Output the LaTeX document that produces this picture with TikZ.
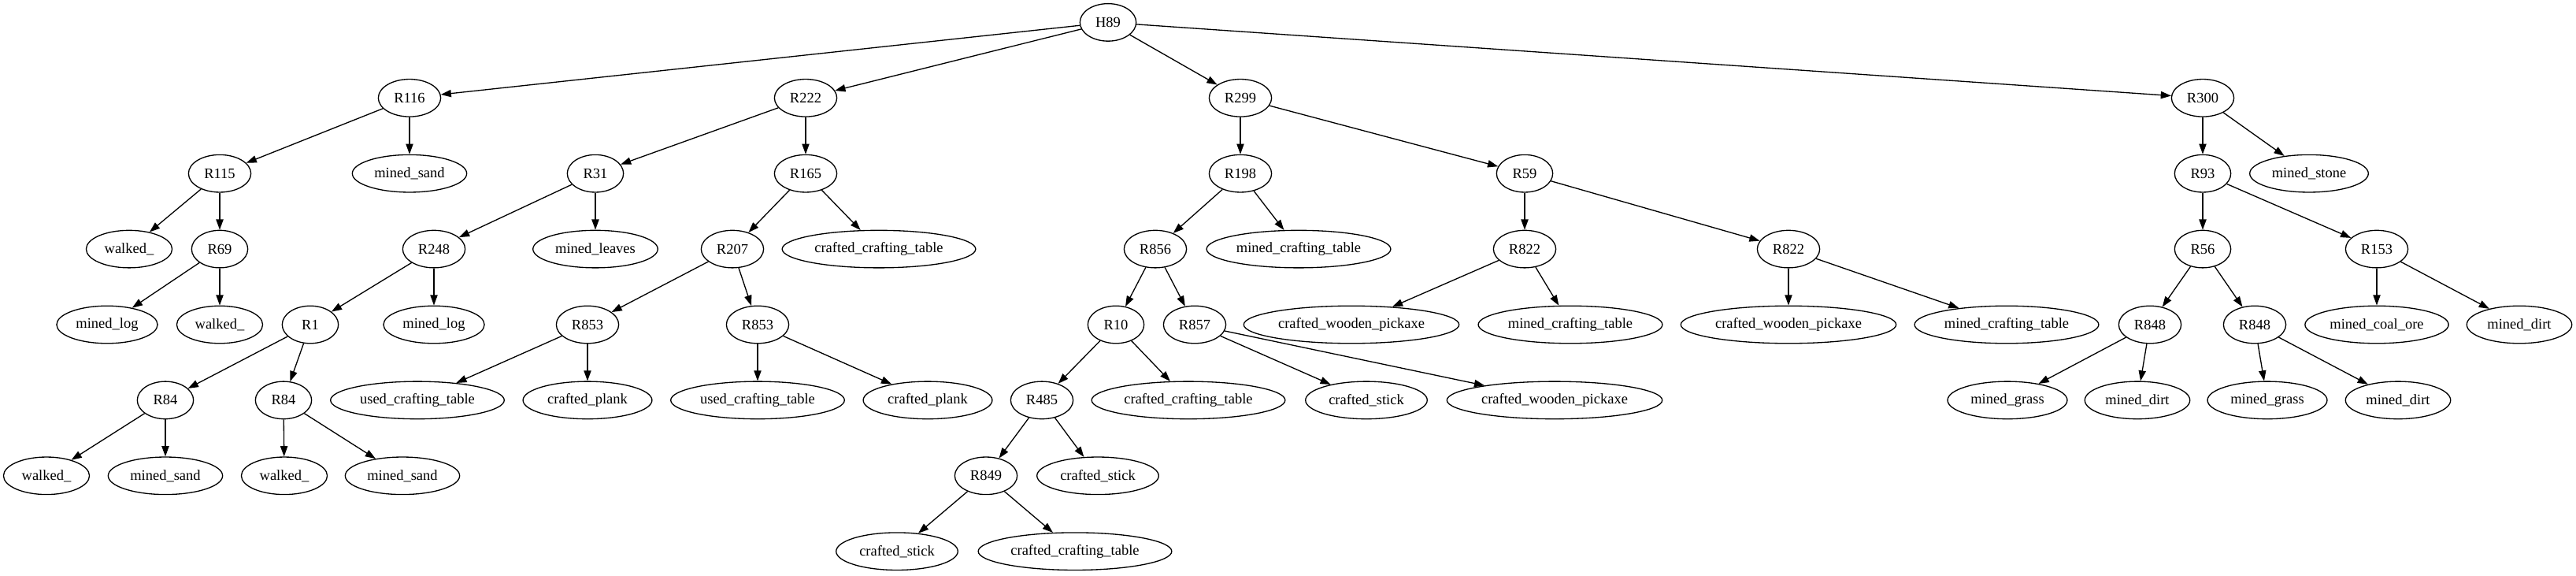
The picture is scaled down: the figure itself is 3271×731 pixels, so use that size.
\documentclass[tikz,border=0pt]{standalone}
\usepackage{fontspec}
\setmainfont{Liberation Serif}
\usetikzlibrary{shapes.geometric,arrows.meta}
\tikzset{
  nd/.style={ellipse, draw, line width=1pt, inner sep=0pt, minimum height=36pt,
             font=\fontsize{14pt}{16pt}\selectfont},
  rs/.style={nd, minimum width=54pt},
  rl/.style={nd, minimum width=60pt},
  lf/.style={nd, minimum width=#1},
  ed/.style={line width=1pt, -{Triangle[length=10pt,width=7pt]}}
}
\begin{document}
\begin{tikzpicture}[x=0.757pt, y=-0.757pt]
\useasboundingbox (0,0) rectangle (3271,731);
\def\ra{28.4}\def\rb{124.3}\def\rc{220.2}\def\rd{316.1}\def\re{412}\def\rf{507.9}\def\rg{603.8}\def\rh{699.7}
% row 0
\node[rs] (H89) at (1407,\ra) {H89};
% row 1
\node[rl] (R116) at (520,\rb) {R116};
\node[rl] (R222) at (1023,\rb) {R222};
\node[rl] (R299) at (1575,\rb) {R299};
\node[rl] (R300) at (2797,\rb) {R300};
% row 2
\node[rl] (R115) at (279,\rc) {R115};
\node[lf=110pt] (msand1) at (520,\rc) {mined\_sand};
\node[rs] (R31) at (756,\rc) {R31};
\node[rl] (R165) at (1023,\rc) {R165};
\node[rl] (R198) at (1575,\rc) {R198};
\node[rs] (R59) at (1936,\rc) {R59};
\node[rs] (R93) at (2797,\rc) {R93};
\node[lf=114pt] (mstone) at (2932,\rc) {mined\_stone};
% row 3
\node[lf=82.6pt] (walk1) at (164,\rd) {walked\_};
\node[rs] (R69) at (279,\rd) {R69};
\node[rl] (R248) at (551,\rd) {R248};
\node[lf=120pt] (mleaves) at (756,\rd) {mined\_leaves};
\node[rl] (R207) at (930,\rd) {R207};
\node[lf=186pt] (cct1) at (1116,\rd) {crafted\_crafting\_table};
\node[rl] (R856) at (1467,\rd) {R856};
\node[lf=177pt] (mct1) at (1649,\rd) {mined\_crafting\_table};
\node[rl] (R822a) at (1936,\rd) {R822};
\node[rl] (R822b) at (2271,\rd) {R822};
\node[rs] (R56) at (2797,\rd) {R56};
\node[rl] (R153) at (3018,\rd) {R153};
% row 4
\node[lf=97pt] (mlog1) at (136,\re) {mined\_log};
\node[lf=82.6pt] (walk2) at (279,\re) {walked\_};
\node[rs] (R1) at (394,\re) {R1};
\node[lf=97pt] (mlog2) at (551,\re) {mined\_log};
\node[rl] (R853a) at (746,\re) {R853};
\node[rl] (R853b) at (962,\re) {R853};
\node[rs] (R10) at (1417,\re) {R10};
\node[rl] (R857) at (1517,\re) {R857};
\node[lf=207pt] (cwp1) at (1716,\re) {crafted\_wooden\_pickaxe};
\node[lf=177pt] (mct2) at (1994,\re) {mined\_crafting\_table};
\node[lf=207pt] (cwp2) at (2271,\re) {crafted\_wooden\_pickaxe};
\node[lf=177pt] (mct3) at (2548,\re) {mined\_crafting\_table};
\node[rl] (R848a) at (2730,\re) {R848};
\node[rl] (R848b) at (2863,\re) {R848};
\node[lf=138pt] (mcoal) at (3018,\re) {mined\_coal\_ore};
\node[lf=101pt] (mdirt1) at (3199,\re) {mined\_dirt};
% row 5
\node[rs] (R84a) at (210,\rf) {R84};
\node[rs] (R84b) at (360,\rf) {R84};
\node[lf=167pt] (uct1) at (530,\rf) {used\_crafting\_table};
\node[lf=124pt] (cplank1) at (746,\rf) {crafted\_plank};
\node[lf=167pt] (uct2) at (962,\rf) {used\_crafting\_table};
\node[lf=124pt] (cplank2) at (1178,\rf) {crafted\_plank};
\node[rl] (R485) at (1323,\rf) {R485};
\node[lf=186pt] (cct2) at (1509,\rf) {crafted\_crafting\_table};
\node[lf=117pt] (cstick1) at (1735,\rf) {crafted\_stick};
\node[lf=207pt] (cwp3) at (1974,\rf) {crafted\_wooden\_pickaxe};
\node[lf=115pt] (mgrass1) at (2549,\rf) {mined\_grass};
\node[lf=101pt] (mdirt2) at (2714,\rf) {mined\_dirt};
\node[lf=115pt] (mgrass2) at (2879,\rf) {mined\_grass};
\node[lf=101pt] (mdirt3) at (3045,\rf) {mined\_dirt};
% row 6
\node[lf=82.6pt] (walk3) at (59,\rg) {walked\_};
\node[lf=110pt] (msand2) at (210,\rg) {mined\_sand};
\node[lf=82.6pt] (walk4) at (361,\rg) {walked\_};
\node[lf=110pt] (msand3) at (511,\rg) {mined\_sand};
\node[rl] (R849) at (1252,\rg) {R849};
\node[lf=117pt] (cstick2) at (1394,\rg) {crafted\_stick};
% row 7
\node[lf=117pt] (cstick3) at (1139,\rh) {crafted\_stick};
\node[lf=186pt] (cct3) at (1365,\rh) {crafted\_crafting\_table};
% edges
\foreach \a/\b in {H89/R116, H89/R222, H89/R299, H89/R300,
  R116/R115, R116/msand1, R115/walk1, R115/R69, R69/mlog1, R69/walk2,
  R222/R31, R222/R165, R31/R248, R31/mleaves, R248/R1, R248/mlog2,
  R1/R84a, R1/R84b, R84a/walk3, R84a/msand2, R84b/walk4, R84b/msand3,
  R165/R207, R165/cct1, R207/R853a, R207/R853b,
  R853a/uct1, R853a/cplank1, R853b/uct2, R853b/cplank2,
  R299/R198, R299/R59, R198/R856, R198/mct1, R856/R10, R856/R857,
  R10/R485, R10/cct2, R485/R849, R485/cstick2, R849/cstick3, R849/cct3,
  R857/cstick1, R857/cwp3, R59/R822a, R59/R822b,
  R822a/cwp1, R822a/mct2, R822b/cwp2, R822b/mct3,
  R300/R93, R300/mstone, R93/R56, R93/R153, R56/R848a, R56/R848b,
  R848a/mgrass1, R848a/mdirt2, R848b/mgrass2, R848b/mdirt3,
  R153/mcoal, R153/mdirt1}
  \draw[ed] (\a) -- (\b);
\end{tikzpicture}
\end{document}
